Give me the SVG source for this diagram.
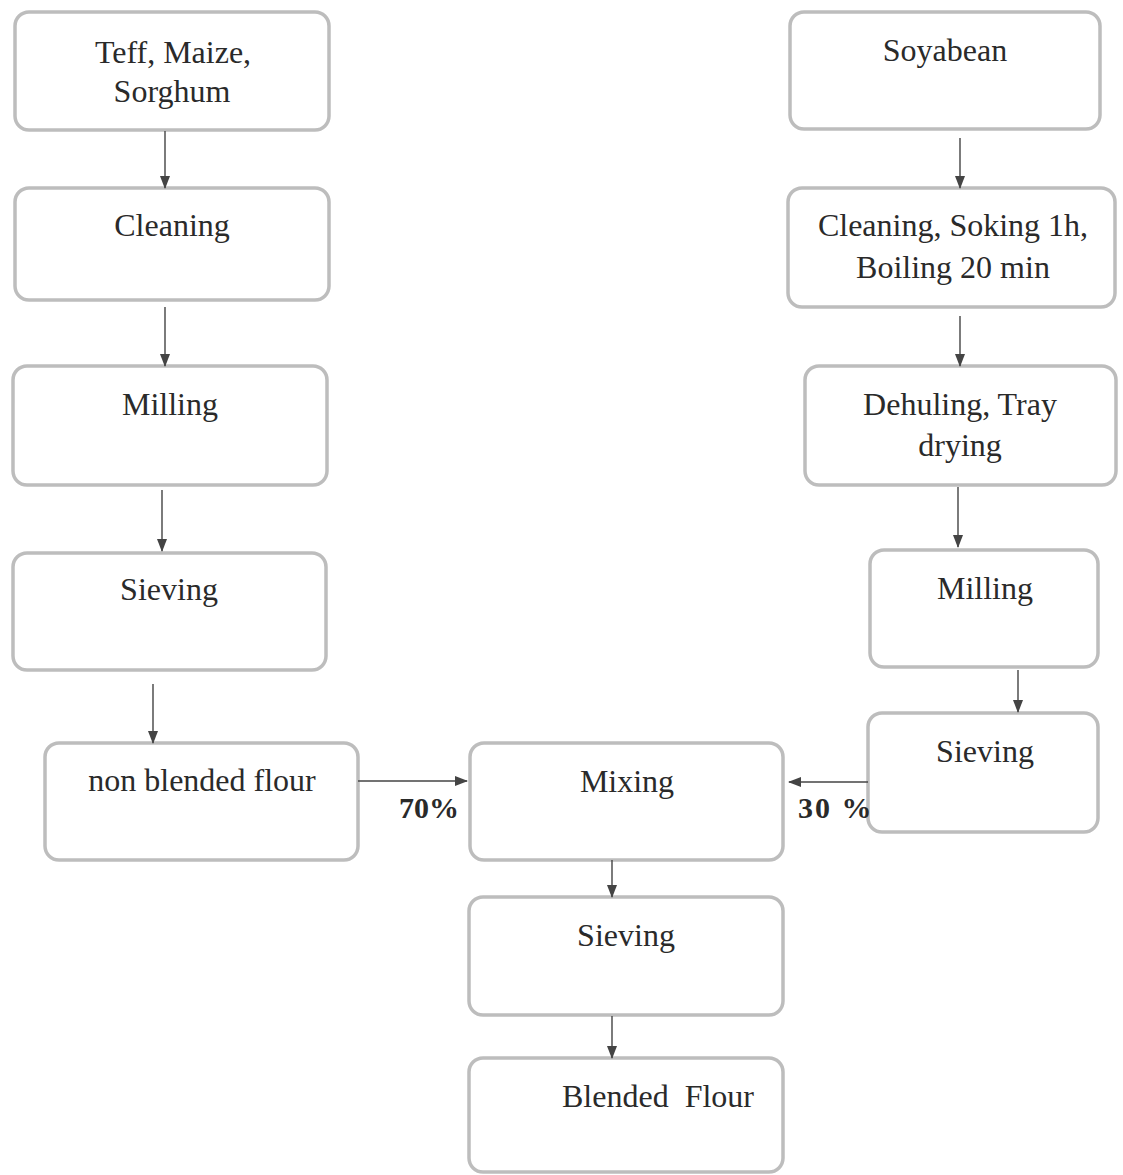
<svg xmlns="http://www.w3.org/2000/svg" width="1123" height="1175" viewBox="0 0 1123 1175">
<style>
.box{fill:#fff;stroke:#bdbdbd;stroke-width:3.5}
.t{font-family:"Liberation Serif","Times New Roman",serif;font-size:32px;fill:#2a2a2a;text-anchor:middle;white-space:pre}
.p{font-family:"Liberation Serif","Times New Roman",serif;font-size:30px;font-weight:bold;fill:#2a2a2a;white-space:pre}
.c{stroke:#444;stroke-width:1.4;fill:none}
</style>
<defs>
<marker id="ah" markerWidth="13" markerHeight="10" refX="12" refY="5" orient="auto" markerUnits="userSpaceOnUse">
<path d="M0,0 L13,5 L0,10 z" fill="#444"/>
</marker>
</defs>
<rect width="1123" height="1175" fill="#fff"/>
<g id="teff"><rect class="box" x="15" y="12" width="314" height="118" rx="14"/><text class="t" x="173" y="63">Teff, Maize,</text><text class="t" x="172" y="102">Sorghum</text></g>
<g id="cleaning-l"><rect class="box" x="15" y="188" width="314" height="112" rx="14"/><text class="t" x="172" y="236">Cleaning</text></g>
<g id="milling-l"><rect class="box" x="13" y="366" width="314" height="119" rx="14"/><text class="t" x="170" y="415">Milling</text></g>
<g id="sieving-l"><rect class="box" x="13" y="553" width="313" height="117" rx="14"/><text class="t" x="169" y="600">Sieving</text></g>
<g id="nonblended"><rect class="box" x="45" y="743" width="313" height="117" rx="14"/><text class="t" x="202" y="791">non blended flour</text></g>
<g id="soyabean"><rect class="box" x="790" y="12" width="310" height="117" rx="14"/><text class="t" x="945" y="61">Soyabean</text></g>
<g id="cleaning-r"><rect class="box" x="788" y="188" width="327" height="119" rx="14"/><text class="t" x="953" y="236">Cleaning, Soking 1h,</text><text class="t" x="953" y="278">Boiling 20 min</text></g>
<g id="dehuling"><rect class="box" x="805" y="366" width="311" height="119" rx="14"/><text class="t" x="960" y="415">Dehuling, Tray</text><text class="t" x="960" y="456">drying</text></g>
<g id="milling-r"><rect class="box" x="870" y="550" width="228" height="117" rx="14"/><text class="t" x="985" y="599">Milling</text></g>
<g id="sieving-r"><rect class="box" x="868" y="713" width="230" height="119" rx="14"/><text class="t" x="985" y="762">Sieving</text></g>
<g id="mixing"><rect class="box" x="470" y="743" width="313" height="117" rx="14"/><text class="t" x="627" y="792">Mixing</text></g>
<g id="sieving-c"><rect class="box" x="469" y="897" width="314" height="118" rx="14"/><text class="t" x="626" y="946">Sieving</text></g>
<g id="blended"><rect class="box" x="469" y="1058" width="314" height="114" rx="14"/><text class="t" x="658" y="1107">Blended  Flour</text></g>
<g id="connectors">
<line class="c" x1="165" y1="131" x2="165" y2="188" marker-end="url(#ah)"/>
<line class="c" x1="165" y1="307" x2="165" y2="366" marker-end="url(#ah)"/>
<line class="c" x1="162" y1="490" x2="162" y2="551" marker-end="url(#ah)"/>
<line class="c" x1="153" y1="684" x2="153" y2="743" marker-end="url(#ah)"/>
<line class="c" x1="960" y1="138" x2="960" y2="188" marker-end="url(#ah)"/>
<line class="c" x1="960" y1="316" x2="960" y2="366" marker-end="url(#ah)"/>
<line class="c" x1="958" y1="487" x2="958" y2="547" marker-end="url(#ah)"/>
<line class="c" x1="1018" y1="670" x2="1018" y2="712" marker-end="url(#ah)"/>
<line class="c" x1="358" y1="781" x2="467" y2="781" marker-end="url(#ah)"/>
<line class="c" x1="868" y1="782" x2="789" y2="782" marker-end="url(#ah)"/>
<line class="c" x1="612" y1="860" x2="612" y2="897" marker-end="url(#ah)"/>
<line class="c" x1="612" y1="1016" x2="612" y2="1058" marker-end="url(#ah)"/>
</g>
<text class="p" x="399" y="818">70%</text>
<text class="p" x="798" y="818" letter-spacing="2">30 %</text>
</svg>
